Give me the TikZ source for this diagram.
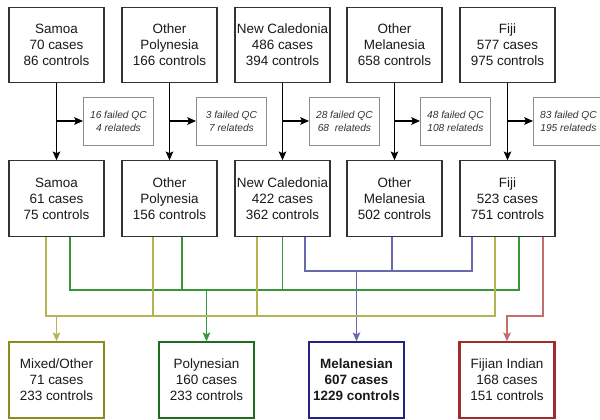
\documentclass[tikz,border=0pt]{standalone}
\usepackage{fontspec}
\setmainfont{Liberation Sans}
\usetikzlibrary{arrows.meta,calc}
\definecolor{oliveln}{RGB}{180,180,85}
\definecolor{olivebx}{RGB}{140,140,25}
\definecolor{greenln}{RGB}{55,150,55}
\definecolor{greenbx}{RGB}{30,110,30}
\definecolor{blueln}{RGB}{105,105,175}
\definecolor{bluebx}{RGB}{35,35,135}
\definecolor{redln}{RGB}{195,110,110}
\definecolor{redbx}{RGB}{160,45,45}

\begin{document}
\begin{tikzpicture}[x=0.03cm,y=-0.03cm,
	box/.style={draw=black!80,line width=1pt,minimum width=2.85cm,minimum height=2.26cm,inner sep=0pt,align=center,text=black!90,font=\fontsize{11.5}{13.7}\selectfont},
	qcbox/.style={draw=black!45,line width=0.7pt,minimum width=2.1cm,minimum height=1.44cm,inner sep=0pt,anchor=west,align=center,text=black!80,font=\fontsize{8.7}{11}\selectfont\itshape},
	grpbox/.style={box,line width=1.8pt},
	arr/.style={line width=1pt,-{Stealth[length=7.5pt,width=6.5pt,inset=1.5pt]}},
	ln/.style={line width=0.9pt}]
	\useasboundingbox (0,0) rectangle (600,419);
	\node[box] (t1) at (56.5,45) {Samoa\\70 cases\\86 controls};
	\node[box] (t2) at (169.5,45) {Other\\Polynesia\\166 controls};
	\node[box] (t3) at (282.5,45) {New Caledonia\\486 cases\\394 controls};
	\node[box] (t4) at (394.5,45) {Other\\Melanesia\\658 controls};
	\node[box] (t5) at (507.5,45) {Fiji\\577 cases\\975 controls};
	\node[qcbox] (q1) at (83,121) {16 failed QC\\4 relateds};
	\node[qcbox] (q2) at (196,121) {3 failed QC\\7 relateds};
	\node[qcbox] (q3) at (309,121) {28 failed QC\\68~ relateds};
	\node[qcbox] (q4) at (420,121) {48 failed QC\\108 relateds};
	\node[qcbox] (q5) at (533,121) {83 failed QC\\195 relateds};
	\node[box] (m1) at (56.5,198.5) {Samoa\\61 cases\\75 controls};
	\node[box] (m2) at (169.5,198.5) {Other\\Polynesia\\156 controls};
	\node[box] (m3) at (282.5,198.5) {New Caledonia\\422 cases\\362 controls};
	\node[box] (m4) at (394.5,198.5) {Other\\Melanesia\\502 controls};
	\node[box] (m5) at (507.5,198.5) {Fiji\\523 cases\\751 controls};
	\node[grpbox,draw=olivebx] (b1) at (56.5,380) {Mixed/Other\\71 cases\\233 controls};
	\node[grpbox,draw=greenbx] (b2) at (206.5,380) {Polynesian\\160 cases\\233 controls};
	\node[grpbox,draw=bluebx,font=\fontsize{11.5}{13.7}\selectfont\bfseries] (b3) at (356.5,380) {Melanesian\\607 cases\\1229 controls};
	\node[grpbox,draw=redbx] (b4) at (507,380) {Fijian Indian\\168 cases\\151 controls};

	\draw[arr] (t1) -- (m1);
	\draw[arr] (t2) -- (m2);
	\draw[arr] (t3) -- (m3);
	\draw[arr] (t4) -- (m4);
	\draw[arr] (t5) -- (m5);
	\draw[arr] (t1.south |- q1.west) -- (q1.west);
	\draw[arr] (t2.south |- q2.west) -- (q2.west);
	\draw[arr] (t3.south |- q3.west) -- (q3.west);
	\draw[arr] (t4.south |- q4.west) -- (q4.west);
	\draw[arr] (t5.south |- q5.west) -- (q5.west);

	\coordinate (bbus) at (0,271);
	\coordinate (gbus) at (0,290);
	\coordinate (obus) at (0,316);
	\coordinate (m1o) at ($(m1.south)+(-10.5,0)$);
	\coordinate (m1g) at ($(m1.south)+(13.5,0)$);
	\coordinate (m2o) at ($(m2.south)+(-16.5,0)$);
	\coordinate (m2g) at ($(m2.south)+(12.5,0)$);
	\coordinate (m3o) at ($(m3.south)+(-25.5,0)$);
	\coordinate (m3g) at ($(m3.south)+(0,0)$);
	\coordinate (m3b) at ($(m3.south)+(22.5,0)$);
	\coordinate (m4b) at ($(m4.south)+(-2.5,0)$);
	\coordinate (m5b) at ($(m5.south)+(-35.5,0)$);
	\coordinate (m5o) at ($(m5.south)+(-12.5,0)$);
	\coordinate (m5g) at ($(m5.south)+(11.5,0)$);
	\coordinate (m5r) at ($(m5.south)+(35.5,0)$);

	\draw[ln,blueln] (m3b) -- (m3b |- bbus) -- (m5b |- bbus) -- (m5b);
	\draw[ln,blueln] (m4b) -- (m4b |- bbus);
	\draw[arr,blueln] (b3.north |- bbus) -- (b3.north);

	\draw[ln,greenln] (m1g) -- (m1g |- gbus) -- (m5g |- gbus) -- (m5g);
	\draw[ln,greenln] (m2g) -- (m2g |- gbus);
	\draw[ln,greenln] (m3g) -- (m3g |- gbus);
	\draw[arr,greenln] (b2.north |- gbus) -- (b2.north);

	\draw[ln,oliveln] (m1o) -- (m1o |- obus) -- (m5o |- obus) -- (m5o);
	\draw[ln,oliveln] (m2o) -- (m2o |- obus);
	\draw[ln,oliveln] (m3o) -- (m3o |- obus);
	\draw[arr,oliveln] (b1.north |- obus) -- (b1.north);

	\draw[arr,redln] (m5r) -- (m5r |- obus) -- (b4.north |- obus) -- (b4.north);
\end{tikzpicture}
\end{document}
